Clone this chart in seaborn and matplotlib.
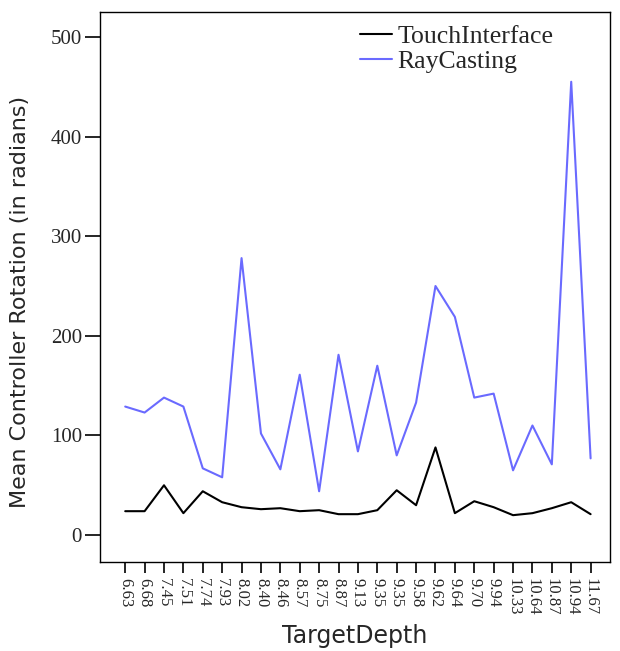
import matplotlib
matplotlib.use("Agg")
import matplotlib.pyplot as plt
import seaborn as sns
import pandas as pd
import numpy as np

depths = ["6.63", "6.68", "7.45", "7.51", "7.74", "7.93", "8.02", "8.40", "8.46", "8.57",
          "8.75", "8.87", "9.13", "9.35", "9.35", "9.58", "9.62", "9.64", "9.70", "9.94",
          "10.33", "10.64", "10.87", "10.94", "11.67"]
touch = [24, 24, 50, 22, 44, 33, 28, 26, 27, 24, 25, 21, 21, 25, 45, 30, 88, 22, 34, 28,
         20, 22, 27, 33, 21]
ray = [129, 123, 138, 129, 67, 58, 278, 102, 66, 161, 44, 181, 84, 170, 80, 133, 250, 219,
       138, 142, 65, 110, 71, 455, 77]
series = ["TouchInterface", "RayCasting"]
colors = {"TouchInterface": "#000000", "RayCasting": "#6a6aff"}

pos = np.arange(len(depths))
df = pd.concat([
    pd.DataFrame({"pos": pos, "value": touch, "series": series[0]}),
    pd.DataFrame({"pos": pos, "value": ray, "series": series[1]}),
])

sns.set_style("white")
fig = plt.figure(figsize=(6.2, 6.51), dpi=100)
ax = fig.add_axes([100/620, 1-562/651, 510/620, 550/651])
sns.lineplot(data=df, x="pos", y="value", hue="series", palette=colors,
             hue_order=series, ax=ax, linewidth=1.5, estimator=None)

ax.set_xlim(-1.3, 25.0)
ax.set_ylim(-27, 525)
ax.set_xticks(pos)
ax.set_xticklabels(depths, rotation=-90, family="Liberation Serif", fontsize=12)
ax.set_yticks([0, 100, 200, 300, 400, 500])
ax.set_yticklabels(["0", "100", "200", "300", "400", "500"], family="Liberation Serif", fontsize=15)
ax.tick_params(axis="both", direction="out", length=8, width=1.2, color="black")
ax.tick_params(axis="y", length=11, pad=2)
ax.xaxis.set_ticks_position("bottom")
ax.yaxis.set_ticks_position("left")
for s in ax.spines.values():
    s.set_color("black")
    s.set_linewidth(1.0)
ax.set_xlabel("TargetDepth", family="DejaVu Sans", fontsize=17, labelpad=6)
ax.set_ylabel("Mean Controller Rotation (in radians)", family="DejaVu Sans", fontsize=16)
ax.yaxis.set_label_coords(-0.137, 0.473)

leg = ax.legend(loc="upper left", frameon=False, prop={"family": "Liberation Serif", "size": 18.5},
                handlelength=1.25, handletextpad=0.2, borderaxespad=0, borderpad=0,
                labelspacing=0.08, bbox_to_anchor=(0.51, 1 - 13/550))
for l in leg.get_lines():
    l.set_linewidth(1.5)

fig.savefig("out.png", dpi=100)
